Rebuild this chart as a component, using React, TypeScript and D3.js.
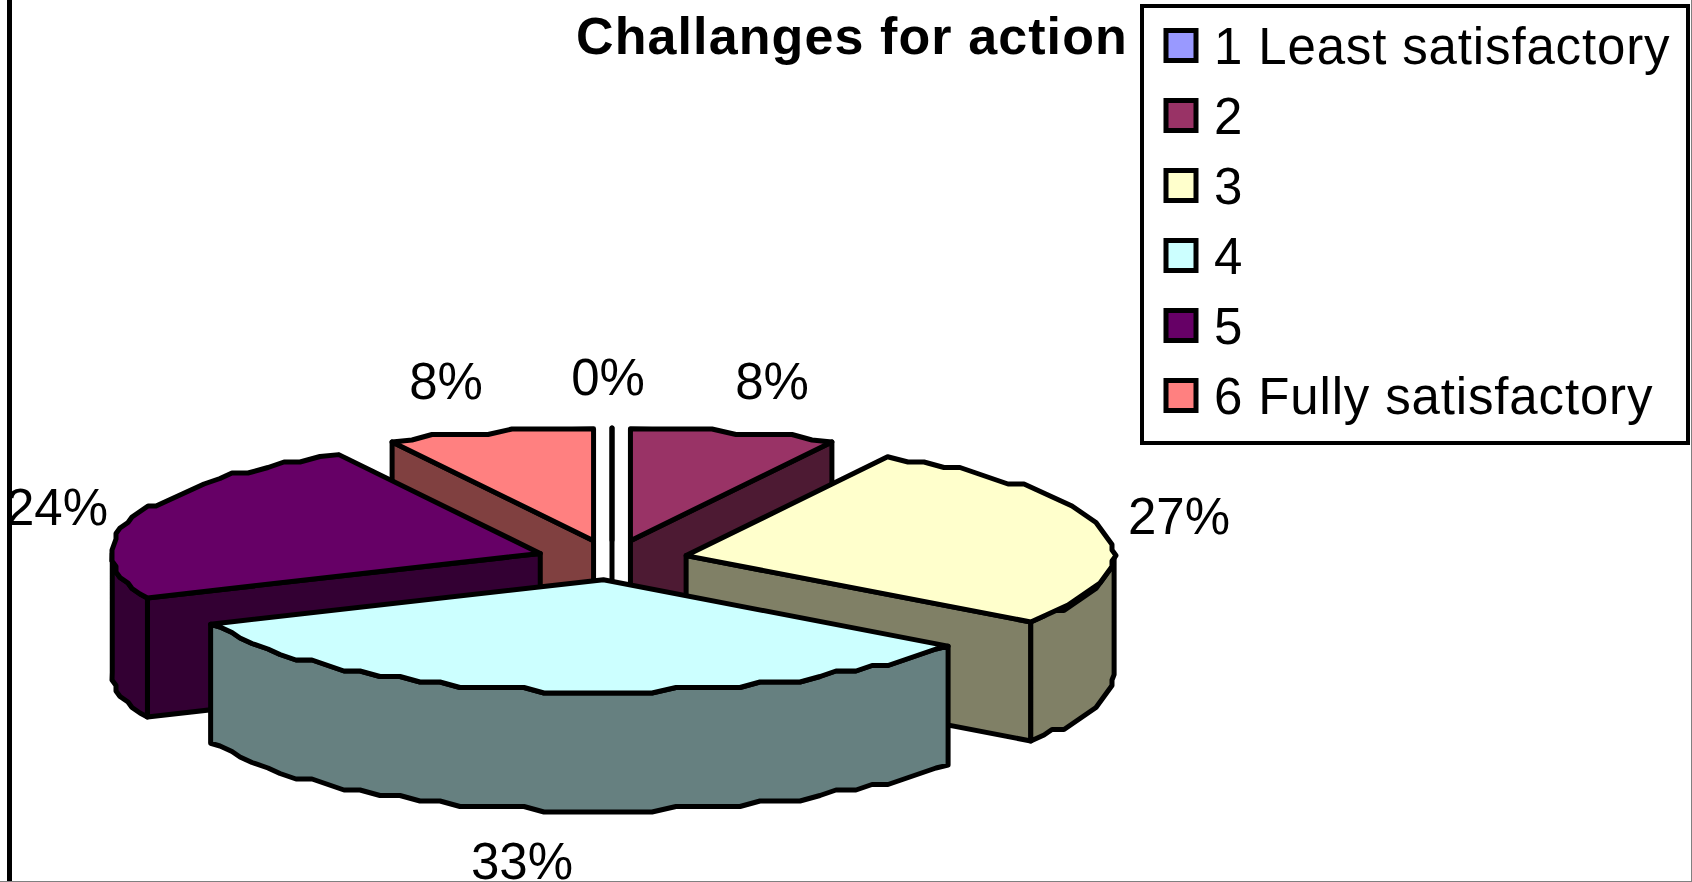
import * as d3 from "d3";

const title = "Challanges for action";
const categories = ["1 Least satisfactory", "2", "3", "4", "5", "6 Fully satisfactory"];
const values = [0, 7.8, 27.3, 33.4, 23.7, 7.8];
const colors = ["#9999ff", "#993366", "#ffffcc", "#ccffff", "#660066", "#ff8080"];

const WIDTH = 1692;
const HEIGHT = 882;
const FONT = "'Liberation Sans', Arial, sans-serif";

// pie projection
const CX = 612;
const CY = 560;
const RX = 428;
const RY = 112;
const DEPTH = 119;
const EXPLODE = 76;
const STROKE = 5;

// order the flattened 3d slices get painted, back to front
const paintOrder = [5, 1, 0, 4, 2, 3];
// label anchors (centre x, baseline y), same order as values
const labelPos: [number, number][] = [
	[608, 395],
	[772, 399],
	[1179, 534],
	[522, 879],
	[57, 525],
	[446, 399],
];

type Pt = [number, number];

const project = (angle: number, r: number, ox = 0, oy = 0): Pt => [
	ox + r * Math.sin(angle),
	oy - (r * RY * Math.cos(angle)) / RX,
];

// the source chart has a stepped rim, so snap the sampled ellipse to a coarse grid
const snap = (v: number, step: number) => Math.round(v / step) * step;

function rim(a0: number, a1: number, ox: number, oy: number): Pt[] {
	const n = Math.max(1, Math.ceil((a1 - a0) / ((3 * Math.PI) / 180)));
	return d3.range(n + 1).map((i) => {
		const p = project(a0 + ((a1 - a0) * i) / n, RX, ox, oy);
		if (i === 0 || i === n) return p;
		return [snap(p[0], 4), snap(p[1], 5.5)] as Pt;
	});
}

const line = d3.line<Pt>();
const closed = (pts: Pt[]) => line(pts) + "Z";
const down = (pts: Pt[]): Pt[] => pts.map(([x, y]) => [x, y + DEPTH]);

export default function App() {
	const pie = d3
		.pie<number>()
		.sort(null)
		.startAngle(0)
		.endAngle(2 * Math.PI)(values);

	const legendY = d3
		.scalePoint<string>()
		.domain(categories)
		.range([45.5, 395.5]);

	const slices = paintOrder.map((i) => {
		const { startAngle: a0, endAngle: a1 } = pie[i];
		const [ox, oy] = project((a0 + a1) / 2, EXPLODE, CX, CY);
		const apex: Pt = [ox, oy];
		const side = d3.rgb(colors[i]);
		const sideFill = d3.rgb(side.r * 0.5, side.g * 0.5, side.b * 0.5).formatHex();

		const walls: Pt[][] = [];
		if (Math.sin(a0) < -1e-6) {
			const p = project(a0, RX, ox, oy);
			walls.push([apex, p, ...down([p, apex])]);
		}
		if (Math.sin(a1) > -1e-6 && a1 < Math.PI) {
			const p = project(a1, RX, ox, oy);
			walls.push([apex, p, ...down([p, apex])]);
		}
		const f0 = Math.max(a0, Math.PI / 2);
		const f1 = Math.min(a1, (3 * Math.PI) / 2);
		let outer: Pt[] | null = null;
		if (f1 > f0) {
			const r = rim(f0, f1, ox, oy);
			outer = [...r, ...down(r).reverse()];
		}
		const top = [apex, ...rim(a0, a1, ox, oy)];

		return (
			<g key={i} stroke="#000" strokeWidth={STROKE} strokeLinejoin="round">
				{walls.map((w, k) => (
					<path key={k} d={closed(w)} fill={sideFill} />
				))}
				{outer && <path d={closed(outer)} fill={sideFill} />}
				<path d={closed(top)} fill={colors[i]} />
			</g>
		);
	});

	return (
		<svg
			width={WIDTH}
			height={HEIGHT}
			style={{ position: "absolute", left: 0, top: 0, display: "block" }}
			fontFamily={FONT}
		>
			<rect width={WIDTH} height={HEIGHT} fill="#fff" />
			<line x1={9.5} y1={0} x2={9.5} y2={HEIGHT} stroke="#000" strokeWidth={5} />
			<line x1={0} y1={881.5} x2={WIDTH} y2={881.5} stroke="#808080" strokeWidth={1} />
			<line x1={1691.5} y1={0} x2={1691.5} y2={HEIGHT} stroke="#808080" strokeWidth={1} />

			{slices}

			{values.map((v, i) => (
				<text key={i} x={labelPos[i][0]} y={labelPos[i][1]} textAnchor="middle" fontSize={51} fill="#000">
					{Math.round(v)}%
				</text>
			))}

			<text x={576} y={54} fontSize={52} fontWeight="bold" letterSpacing={1.1} fill="#000">
				{title}
			</text>

			<rect x={1142} y={6} width={546} height={437} fill="#fff" stroke="#000" strokeWidth={4} />
			{categories.map((c, i) => (
				<g key={c}>
					<rect
						x={1166}
						y={legendY(c)! - 15}
						width={30}
						height={30}
						fill={colors[i]}
						stroke="#000"
						strokeWidth={5}
					/>
					<text x={1214} y={legendY(c)! + 18} fontSize={51} letterSpacing={0.85} fill="#000">
						{c}
					</text>
				</g>
			))}
		</svg>
	);
}
